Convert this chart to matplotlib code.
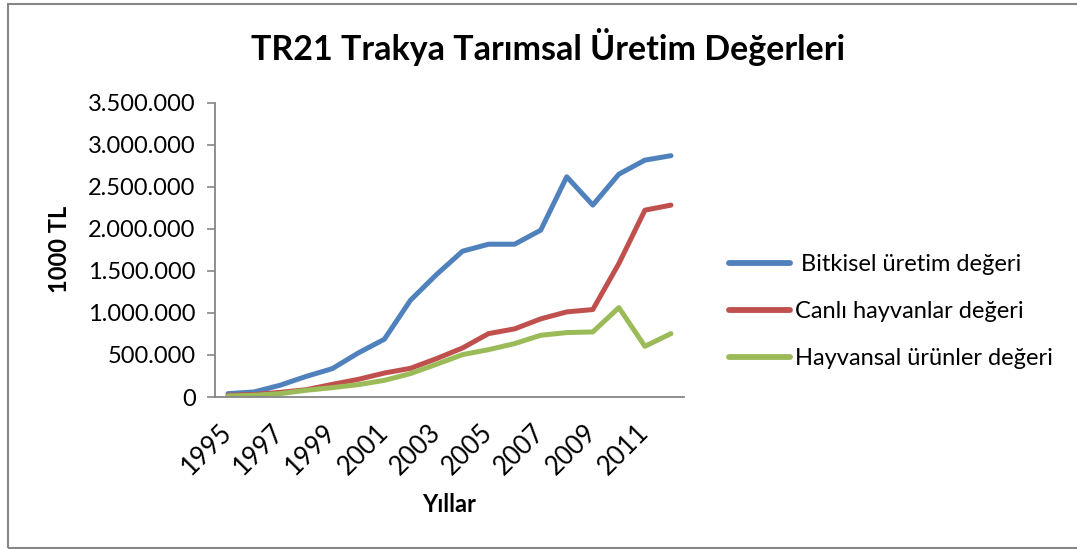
import numpy as np
import matplotlib
matplotlib.use("Agg")
import matplotlib.pyplot as plt
import matplotlib.transforms as mtransforms
from matplotlib.ticker import FuncFormatter, MultipleLocator
from matplotlib.patches import Rectangle

plt.rcParams['font.family'] = ['Lato', 'DejaVu Sans']

years = list(range(1995, 2013))
bitkisel = [40000, 60000, 140000, 245000, 337000, 524000, 687000, 1150000, 1456000,
            1734000, 1817000, 1817000, 1984000, 2619000, 2282000, 2650000, 2817000, 2870000]
canli = [20000, 30000, 55000, 87000, 150000, 210000, 285000, 341000, 456000,
         583000, 754000, 810000, 929000, 1012000, 1040000, 1587000, 2222000, 2282000]
hayvansal = [12000, 20000, 40000, 80000, 111000, 147000, 198000, 278000, 389000,
             504000, 563000, 635000, 734000, 766000, 774000, 1063000, 603000, 754000]
labels = [' Bitkisel üretim değeri', 'Canlı hayvanlar değeri', 'Hayvansal ürünler değeri']
colors = ['#4F81BD', '#C0504D', '#9BBB59']

fig = plt.figure(figsize=(10.77, 5.49), dpi=100)
ax = fig.add_axes([215/1077, 1-397/549, 469/1077, (397-102.7)/549])

x = np.arange(len(years))
for vals, lab, c in zip([bitkisel, canli, hayvansal], labels, colors):
    ax.plot(x, vals, color=c, lw=3.6, label=lab, solid_capstyle='round', solid_joinstyle='round')

ax.set_xlim(-0.5, len(years) - 0.5)
ax.set_ylim(0, 3500000)
ax.yaxis.set_major_locator(MultipleLocator(500000))
ax.yaxis.set_major_formatter(FuncFormatter(lambda v, p: f"{int(v):,}".replace(',', '.')))
ax.set_xticks(x[::2])
ax.set_xticklabels([str(y) for y in years[::2]], rotation=45, ha='right', va='top',
                   rotation_mode='anchor', fontsize=18.5)
ax.tick_params(axis='x', length=0, pad=14)
ax.tick_params(axis='y', length=6, width=1.2, color='#868686', labelsize=17, pad=8)
# shift the rotated year labels so their upper end sits at the category
shift = mtransforms.ScaledTranslation(-9/100, -3/100, fig.dpi_scale_trans)
for t in ax.get_xticklabels():
    t.set_transform(t.get_transform() + shift)

for s in ['top', 'right']:
    ax.spines[s].set_visible(False)
for s in ['left', 'bottom']:
    ax.spines[s].set_color('#868686')
    ax.spines[s].set_linewidth(1.3)

ax.set_xlabel('Yıllar', fontsize=17, fontweight='bold', labelpad=10)
ax.set_ylabel('1000 TL', fontsize=17, fontweight='bold', labelpad=12)
fig.text(548/1077, 1-47/549, 'TR21 Trakya Tarımsal Üretim Değerleri', ha='center', va='center',
         fontsize=24.5, fontweight='bold')

leg = ax.legend(loc='center left', bbox_to_anchor=(1.05, 0.29), frameon=False,
                fontsize=17, handlelength=2.6, labelspacing=1.1, handletextpad=0.2)
for h in leg.get_lines():
    h.set_linewidth(4.2)

fig.patches.append(Rectangle((8/1077, 1/549), 1.2, 1-5/549, transform=fig.transFigure,
                             fill=False, edgecolor='#868686', lw=1.5))

fig.savefig('out.png', dpi=100)
